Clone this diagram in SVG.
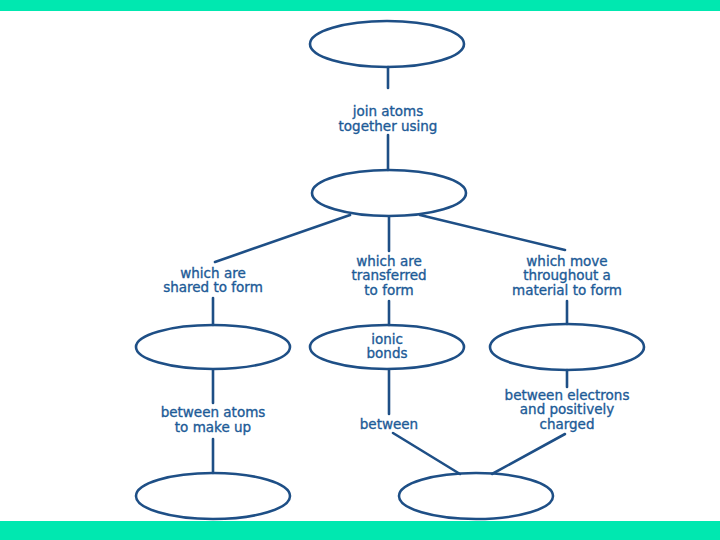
<svg xmlns="http://www.w3.org/2000/svg" width="720" height="540" viewBox="0 0 720 540">
<style>
.bar{fill:#00e8b0}
.node ellipse{fill:none;stroke:#1e4f86;stroke-width:2.6}
#connectors line{stroke:#1e4f86;stroke-width:2.6;stroke-linecap:round}
text{font-family:"DejaVu Sans","Liberation Sans",sans-serif;font-size:13.5px;fill:#1d5b97;stroke:#1d5b97;stroke-width:0.35;text-anchor:middle}
</style>
<rect width="720" height="540" fill="#ffffff"/>
<rect class="bar" x="0" y="0" width="720" height="11"/>
<rect class="bar" x="0" y="521" width="720" height="19"/>
<g id="connectors">
<line x1="388" y1="67" x2="388" y2="88"/>
<line x1="388" y1="135" x2="388" y2="170"/>
<line x1="350" y1="215" x2="215" y2="262"/>
<line x1="389" y1="217" x2="389" y2="251"/>
<line x1="420" y1="215" x2="565" y2="250"/>
<line x1="213" y1="298" x2="213" y2="325"/>
<line x1="389" y1="301" x2="389" y2="325"/>
<line x1="567" y1="301" x2="567" y2="324"/>
<line x1="213" y1="370" x2="213" y2="403"/>
<line x1="213" y1="439" x2="213" y2="473"/>
<line x1="389" y1="370" x2="389" y2="414"/>
<line x1="393" y1="433" x2="460" y2="474"/>
<line x1="567" y1="370" x2="567" y2="387"/>
<line x1="565" y1="434" x2="492" y2="474"/>
</g>
<g id="label-join"><text x="388" y="116">join atoms</text><text x="388" y="130.5">together using</text></g>
<g id="label-shared"><text x="213" y="277.5">which are</text><text x="213" y="292">shared to form</text></g>
<g id="label-transferred"><text x="389" y="265.5">which are</text><text x="389" y="280">transferred</text><text x="389" y="294.5">to form</text></g>
<g id="label-move"><text x="567" y="265.5">which move</text><text x="567" y="280">throughout a</text><text x="567" y="294.5">material to form</text></g>
<g id="label-atoms"><text x="213" y="417">between atoms</text><text x="213" y="431.5">to make up</text></g>
<g id="label-between"><text x="389" y="429">between</text></g>
<g id="label-electrons"><text x="567" y="399.5">between electrons</text><text x="567" y="414">and positively</text><text x="567" y="428.5">charged</text></g>
<g id="node-top" class="node"><ellipse cx="387" cy="44" rx="77" ry="23"/></g>
<g id="node-bonds" class="node"><ellipse cx="389" cy="193" rx="77" ry="23"/></g>
<g id="node-covalent" class="node"><ellipse cx="213" cy="347" rx="77" ry="22"/></g>
<g id="node-ionic" class="node"><ellipse cx="387" cy="347" rx="77" ry="22"/><text x="387" y="343.5">ionic</text><text x="387" y="358">bonds</text></g>
<g id="node-metallic" class="node"><ellipse cx="567" cy="347" rx="77" ry="23"/></g>
<g id="node-molecules" class="node"><ellipse cx="213" cy="496" rx="77" ry="23"/></g>
<g id="node-ions" class="node"><ellipse cx="476" cy="496" rx="77" ry="23"/></g>
</svg>
